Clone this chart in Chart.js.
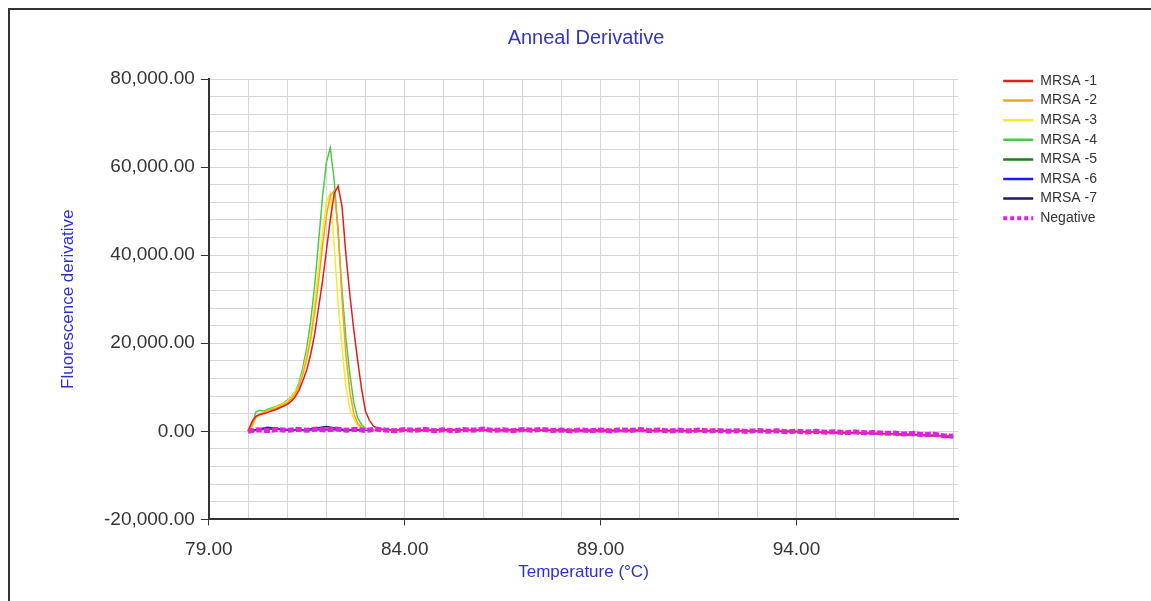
<!DOCTYPE html>
<html>
<head>
<meta charset="utf-8">
<title>Anneal Derivative</title>
<script src="https://cdn.jsdelivr.net/npm/chart.js@4.4.1/dist/chart.umd.min.js"></script>
<style>
  html, body { margin: 0; padding: 0; background: #fff; overflow: hidden; }
  #frame { position: absolute; left: 8px; top: 8px; width: 1200px; height: 700px; border: 2px solid #333; }
  #chart { position: absolute; left: 0; top: 0; }
</style>
</head>
<body>
<div id="frame"></div>
<canvas id="chart" width="1151" height="601"></canvas>
<script>
// temperatures (°C)
const meltTemps = [80.0, 80.1, 80.2, 80.3, 80.4, 80.5, 80.6, 80.7, 80.8, 80.9,
  81.0, 81.1, 81.2, 81.3, 81.4, 81.5, 81.6, 81.7, 81.8, 81.9,
  82.0, 82.1, 82.2, 82.3, 82.4, 82.5, 82.6, 82.7, 82.8, 82.9,
  83.0, 83.1, 83.2, 83.3, 83.4, 83.5, 83.6];
const tailTemps = [84.0, 84.5, 85.0, 85.5, 86.0, 86.5, 87.0, 87.5, 88.0, 88.5,
  89.0, 89.5, 90.0, 90.5, 91.0, 91.5, 92.0, 92.5, 93.0, 93.5,
  94.0, 94.5, 95.0, 95.5, 96.0, 96.5, 97.0, 97.5, 98.0];
const runTemps = [80.0, 80.5, 81.0, 81.5, 82.0, 82.5, 83.0, 83.5, 84.0, 84.5,
  85.0, 85.5, 86.0, 86.5, 87.0, 87.5, 88.0, 88.5, 89.0, 89.5,
  90.0, 90.5, 91.0, 91.5, 92.0, 92.5, 93.0, 93.5, 94.0, 94.5,
  95.0, 95.5, 96.0, 96.5, 97.0, 97.5, 98.0];
const negTemps = [80.0, 80.25, 80.5, 80.75, 81.0, 81.25, 81.5, 81.75, 82.0, 82.25,
  82.5, 82.75, 83.0, 83.25, 83.5, 83.75, 84.0, 84.25, 84.5, 84.75,
  85.0, 85.25, 85.5, 85.75, 86.0, 86.25, 86.5, 86.75, 87.0, 87.25,
  87.5, 87.75, 88.0, 88.25, 88.5, 88.75, 89.0, 89.25, 89.5, 89.75,
  90.0, 90.25, 90.5, 90.75, 91.0, 91.25, 91.5, 91.75, 92.0, 92.25,
  92.5, 92.75, 93.0, 93.25, 93.5, 93.75, 94.0, 94.25, 94.5, 94.75,
  95.0, 95.25, 95.5, 95.75, 96.0, 96.25, 96.5, 96.75, 97.0, 97.25,
  97.5, 97.75, 98.0];

// fluorescence derivative
const mrsa1Melt = [0, 2200, 3400, 3800, 4000, 4300, 4600, 4900, 5300, 5700,
  6100, 6800, 7800, 9300, 11500, 14000, 17500, 22000, 28000, 34000,
  41000, 48000, 54000, 55700, 51000, 40000, 31000, 23000, 16000, 9500,
  4500, 2500, 1200, 700, 500, 400, 350];
const mrsa2Melt = [0, 1200, 3200, 3900, 4300, 4700, 4900, 5200, 5600, 6000,
  6500, 7300, 8500, 10200, 13000, 16500, 21000, 27000, 34000, 42000,
  49000, 53500, 54700, 46000, 30000, 17000, 9000, 4000, 1800, 900,
  600, 450, 400, 350, 350, 300, 300];
const mrsa3Melt = [0, 1000, 3000, 3800, 4300, 4800, 5000, 5400, 5800, 6300,
  6800, 7700, 9000, 10500, 13500, 17500, 22500, 29000, 37000, 45000,
  52000, 54000, 42000, 29000, 19000, 10000, 5000, 2800, 1300, 700,
  500, 400, 350, 300, 300, 250, 250];
const mrsa4Melt = [0, 1500, 4400, 4800, 4600, 5000, 5300, 5600, 6000, 6400,
  7000, 7800, 9000, 11000, 14500, 19000, 25000, 33000, 43000, 53000,
  61000, 64400, 57000, 45000, 32000, 21000, 13000, 6500, 3000, 1500,
  700, 500, 400, 350, 300, 300, 300];

const mrsa1Tail = [300, 250, 350, 300, 250, 300, 350, 250, 300, 200,
  250, 200, 250, 150, 200, 100, 150, 50, 100, 0,
  -50, -150, -250, -350, -450, -600, -750, -950, -1150];
const mrsa2Tail = [250, 350, 300, 250, 350, 250, 300, 300, 200, 250,
  300, 150, 200, 200, 150, 150, 100, 100, 50, 50,
  -100, -100, -200, -300, -500, -550, -800, -900, -1200];
const mrsa3Tail = [350, 300, 250, 350, 200, 300, 250, 300, 250, 250,
  200, 250, 150, 200, 150, 100, 150, 50, 50, 0,
  -50, -200, -200, -400, -400, -650, -700, -1000, -1100];
const mrsa4Tail = [300, 300, 250, 300, 300, 200, 300, 250, 250, 200,
  200, 200, 200, 150, 100, 150, 50, 100, 0, 0,
  -100, -150, -300, -300, -500, -600, -750, -900, -1250];

const mrsa5Run = [0, 500, 400, 350, 450, 300, 400, 300, 350, 250,
  300, 350, 250, 300, 200, 300, 250, 200, 250, 150,
  200, 150, 200, 100, 150, 50, 100, 0, -50, -150,
  -250, -350, -500, -650, -800, -1000, -1350];
const mrsa6Run = [0, 900, 350, 300, 400, 250, 350, 300, 300, 200,
  350, 300, 250, 250, 200, 300, 200, 250, 200, 150,
  200, 100, 150, 100, 150, 50, 50, 0, -100, -150,
  -300, -400, -500, -700, -850, -1050, -1250];
const mrsa7Run = [0, 600, 300, 400, 1100, 300, 350, 250, 300, 250,
  300, 250, 300, 200, 250, 250, 200, 200, 150, 200,
  150, 150, 100, 150, 100, 50, 0, 50, -100, -200,
  -250, -400, -550, -650, -850, -1000, -1300];

const negValues = [0, 350, 150, 400, 200, 450, 250, 500, 300, 550,
  250, 450, 200, 500, 300, 150, 400, 200, 450, 150,
  350, 100, 400, 250, 500, 200, 350, 150, 400, 250,
  450, 200, 300, 100, 350, 150, 300, 100, 350, 200,
  400, 150, 300, 50, 250, 100, 300, 50, 200, 0,
  150, -50, 200, 0, 100, -100, 50, -150, 0, -200,
  -100, -300, -150, -350, -250, -450, -400, -600, -500, -800,
  -650, -1000, -1100];

// axis ticks
const xTicks = [79, 80, 81, 82, 83, 84, 85, 86, 87, 88, 89, 90, 91, 92, 93, 94, 95, 96, 97, 98];
const xLabelled = [79, 84, 89, 94];
const yTicks = [-20000, -16000, -12000, -8000, -4000, 0, 4000, 8000, 12000, 16000, 20000,
  24000, 28000, 32000, 36000, 40000, 44000, 48000, 52000, 56000, 60000,
  64000, 68000, 72000, 76000, 80000];
const yLabelled = [-20000, 0, 20000, 40000, 60000, 80000];

const FONT = "'Liberation Sans', Arial, sans-serif";

function pair(temps, values) {
    return temps.map((t, i) => ({x: t, y: values[i]}));
}

function series(label, color, points) {
    return {label: label, data: points, borderColor: color, backgroundColor: color,
            borderWidth: 1.5, order: 1};
}

const ctx = document.getElementById('chart').getContext('2d');
const myChart = new Chart(ctx, {
    type: 'line',
    data: {
        datasets: [
            series('MRSA -1', '#e41b1b', pair(meltTemps, mrsa1Melt).concat(pair(tailTemps, mrsa1Tail))),
            series('MRSA -2', '#f7a21b', pair(meltTemps, mrsa2Melt).concat(pair(tailTemps, mrsa2Tail))),
            series('MRSA -3', '#f4ee22', pair(meltTemps, mrsa3Melt).concat(pair(tailTemps, mrsa3Tail))),
            series('MRSA -4', '#4cc94c', pair(meltTemps, mrsa4Melt).concat(pair(tailTemps, mrsa4Tail))),
            series('MRSA -5', '#1a7f1a', pair(runTemps, mrsa5Run)),
            series('MRSA -6', '#1a1aff', pair(runTemps, mrsa6Run)),
            series('MRSA -7', '#1a1a6e', pair(runTemps, mrsa7Run)),
            {
                label: 'Negative',
                data: pair(negTemps, negValues),
                borderColor: '#e81ce8',
                backgroundColor: '#e81ce8',
                borderWidth: 5,
                borderDash: [6, 2],
                order: 0
            }
        ]
    },
    options: {
        responsive: false,
        animation: false,
        layout: {padding: {left: 65, right: 44, top: 0, bottom: 12.8}},
        elements: {point: {radius: 0}, line: {tension: 0}},
        plugins: {
            title: {
                display: true,
                text: 'Anneal Derivative',
                color: '#3535c0',
                font: {family: FONT, size: 20, weight: 'normal'},
                padding: {top: 26, bottom: 29}
            },
            legend: {
                position: 'right',
                align: 'start',
                title: {display: true, text: '', font: {size: 12}, padding: {top: 54, bottom: 0}},
                labels: {
                    usePointStyle: true,
                    pointStyle: 'line',
                    pointStyleWidth: 30,
                    padding: 5.6,
                    color: '#333',
                    font: {family: FONT, size: 14},
                    sort: (a, b) => a.datasetIndex - b.datasetIndex,
                    generateLabels: chart => Chart.defaults.plugins.legend.labels.generateLabels(chart)
                        .map(item => {
                            const ds = chart.data.datasets[item.datasetIndex];
                            return Object.assign(item, {
                                strokeStyle: ds.borderColor,
                                lineWidth: ds.borderDash ? 4 : 2.5,
                                lineDash: ds.borderDash ? [4, 3] : []
                            });
                        })
                }
            },
            tooltip: {enabled: false}
        },
        scales: {
            x: {
                type: 'linear',
                min: 79,
                max: 98.13,
                afterBuildTicks: s => { s.ticks = xTicks.map(v => ({value: v})); },
                grid: {
                    color: '#d6d6d6',
                    tickLength: 6,
                    tickColor: c => (c.tick && xLabelled.includes(c.tick.value)) ? '#333' : 'rgba(0,0,0,0)'
                },
                border: {color: '#333', width: 2},
                ticks: {
                    autoSkip: false,
                    maxRotation: 0,
                    padding: 12.6,
                    color: '#333',
                    font: {family: FONT, size: 19},
                    callback: v => xLabelled.includes(v) ? v.toFixed(2) : ''
                },
                title: {
                    display: true,
                    text: 'Temperature (°C)',
                    color: '#2f2fd0',
                    font: {family: FONT, size: 17},
                    padding: {top: -11.6, bottom: 6}
                }
            },
            y: {
                type: 'linear',
                min: -20000,
                max: 80000,
                afterBuildTicks: s => { s.ticks = yTicks.map(v => ({value: v})); },
                grid: {
                    color: '#d6d6d6',
                    tickLength: 8,
                    tickColor: c => (c.tick && yLabelled.includes(c.tick.value)) ? '#333' : 'rgba(0,0,0,0)'
                },
                border: {color: '#333', width: 2},
                ticks: {
                    autoSkip: false,
                    padding: 6,
                    color: '#333',
                    font: {family: FONT, size: 19},
                    callback: v => yLabelled.includes(v)
                        ? v.toLocaleString('en-US', {minimumFractionDigits: 2, maximumFractionDigits: 2}) : ''
                },
                title: {
                    display: true,
                    text: 'Fluorescence derivative',
                    color: '#2f2fd0',
                    font: {family: FONT, size: 17},
                    padding: {top: -7.2, bottom: 19.8}
                }
            },
            gap: {
                type: 'linear',
                position: 'right',
                grid: {display: false, drawTicks: false},
                border: {display: false},
                ticks: {display: false},
                afterFit: s => { s.width = 39.4; }
            }
        }
    }
});
</script>
</body>
</html>
